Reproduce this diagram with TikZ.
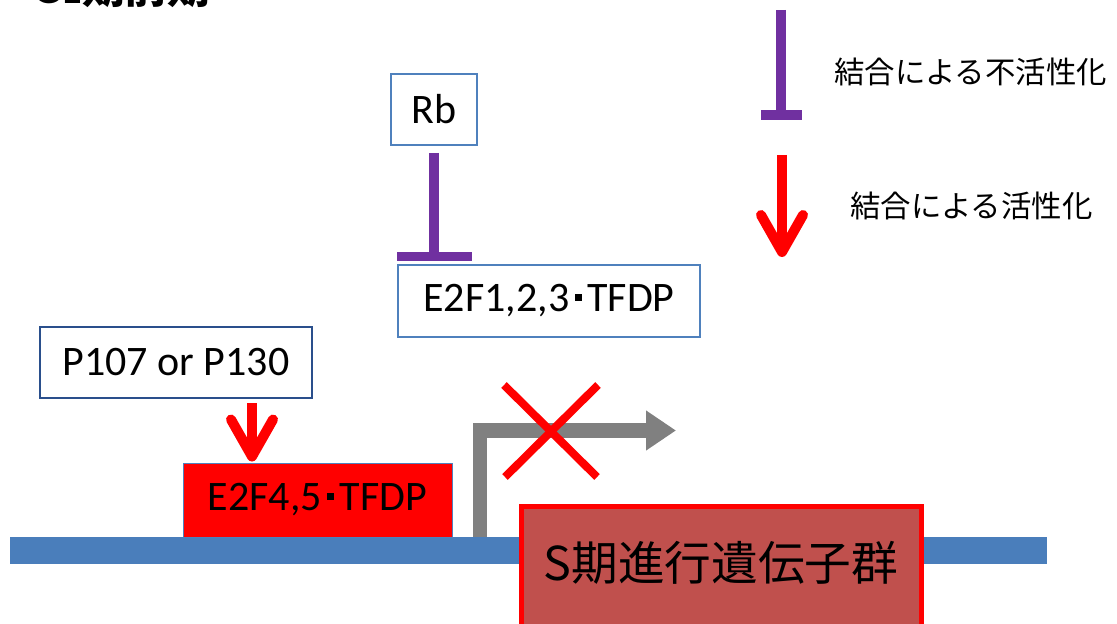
\documentclass[tikz,border=0pt]{standalone}
\usepackage{fontspec}
\setmainfont{Carlito}
\newfontfamily\jp{Noto Sans CJK JP}
\usetikzlibrary{arrows.meta,calc}
\definecolor{boxblue}{HTML}{4F81BD}
\definecolor{navyblue}{HTML}{2A4F8C}
\definecolor{dnablue}{HTML}{4A7EBB}
\definecolor{inhpurple}{HTML}{7030A0}
\definecolor{promgray}{HTML}{808080}
\definecolor{genefill}{HTML}{C0504D}
\newcommand{\dotsep}{\hspace{0.13em}\raisebox{0.25em}{\rule{0.17em}{0.17em}}\hspace{0.13em}}
\begin{document}
\begin{tikzpicture}[x=0.75pt,y=-0.75pt,
  lbox/.style={draw=boxblue, line width=1.5pt, fill=white, inner sep=0pt,
    font=\fontsize{31.5}{36}\selectfont},
  inhline/.style={draw=inhpurple, line width=7.5pt, line cap=butt},
  inhbar/.style={draw=inhpurple, line width=7pt, line cap=butt},
  actshaft/.style={draw=red, line width=7.5pt, line cap=butt},
  acthead/.style={draw=red, line width=7.5pt, line cap=round, line join=round},
  legtext/.style={anchor=west, inner sep=0pt, font=\jp\fontsize{22.8}{26}\selectfont},
  xline/.style={draw=red, line width=6pt, line cap=butt}]
\useasboundingbox (0,0) rectangle (1117,624);
\begin{scope}
\clip (0,0) rectangle (1117,624);
% title (cut off at the top)
\node[anchor=base west, inner sep=0pt, font=\bfseries\fontsize{32}{32}\selectfont] (title) at (33,4) {G1{\jp 期前期}};

% legend
\coordinate (lt1) at (781,10);
\coordinate (lt2) at (781,115);
\draw[inhline] (lt1) -- (lt2);
\draw[inhbar] ($(lt2)+(-20,0)$) -- ($(lt2)+(21,0)$);
\node[legtext] (leginh) at (834,72) {結合による不活性化};
\coordinate (la1) at (782,155);
\coordinate (la2) at (782,252);
\draw[actshaft] (la1) -- ($(la2)+(0,-3)$);
\draw[acthead] ($(la2)+(-21,-37)$) -- (la2) -- ($(la2)+(21,-37)$);
\node[legtext] (legact) at (850,206) {結合による活性化};

% DNA bar
\node[fill=dnablue, inner sep=0pt, minimum width=777.75pt, minimum height=20.25pt] (dna) at (528.5,550.5) {};

% boxes
\node[lbox, minimum width=65pt, minimum height=53.25pt] (rb) at (434,109.5) {Rb};
\node[lbox, minimum width=226.5pt, minimum height=54pt] (e2f1) at (549,301) {E2F1,2,3\dotsep TFDP};
\node[lbox, draw=navyblue, minimum width=204pt, minimum height=53.25pt] (p107) at (176,362.5) {P107 or P130};
\node[lbox, fill=red, line width=0.75pt, minimum width=201.75pt, minimum height=55.5pt] (e2f4) at (317.5,500) {E2F4,5\dotsep TFDP};

% Rb inhibits E2F1,2,3
\coordinate (ti1) at ($(rb.south)+(0,7)$);
\coordinate (ti2) at ($(rb.south |- e2f1.north)+(0,-7.5)$);
\draw[inhline] (ti1) -- (ti2);
\draw[inhbar] ($(ti2)+(-37,0)$) -- ($(ti2)+(38,0)$);

% P107 activates E2F4,5
\coordinate (pa) at ($(p107.south)+(76,0)$);
\coordinate (pa1) at ($(pa)+(0,4)$);
\coordinate (pa2) at ($(pa |- e2f4.north)+(0,-6)$);
\draw[actshaft] (pa1) -- ($(pa2)+(0,-3)$);
\draw[acthead] ($(pa2)+(-21,-37)$) -- (pa2) -- ($(pa2)+(21,-37)$);

% promoter arrow
\coordinate (gs) at (480,0);
\coordinate (gc) at (480,430.5);
\coordinate (ge) at (676,430.5);
\draw[promgray, line width=11pt, line join=miter, -{Triangle[length=22.5pt,width=28.5pt]}]
  (gs |- dna.north) -- (gc) -- (ge);

% red cross
\draw[xline] (504,385) -- (597,477);
\draw[xline] (598,385) -- (505,477);

% S-phase genes
\node[draw=red, fill=genefill, line width=3.75pt, inner sep=0pt, minimum width=300pt, minimum height=100pt] (sgenes) at (721.5,573) {};
\node[inner sep=0pt, font=\jp\fontsize{35}{40}\selectfont] (slabel) at (721,563) {S期進行遺伝子群};
\end{scope}
\end{tikzpicture}
\end{document}
